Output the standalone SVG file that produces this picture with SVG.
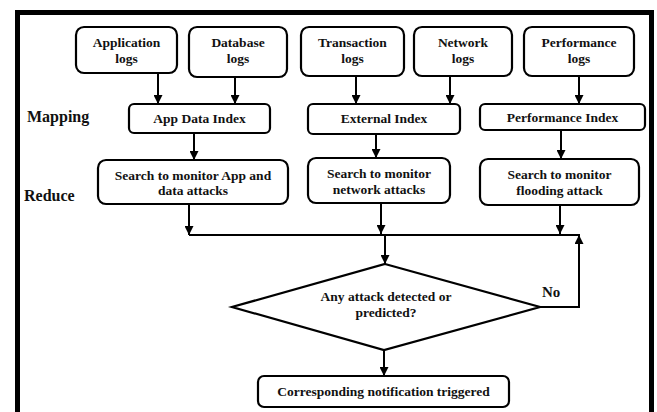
<svg xmlns="http://www.w3.org/2000/svg" width="657" height="412" viewBox="0 0 657 412">
<defs>
<marker id="ah" viewBox="0 0 10 10" refX="10" refY="5" markerWidth="4.5" markerHeight="4.5" orient="auto" markerUnits="strokeWidth">
<path d="M0,0 L10,5 L0,10 z" fill="#000"/>
</marker>
<style>
.box{fill:#fff;stroke:#000;stroke-width:2.2}
.t{font-family:"Liberation Serif","Times New Roman",serif;font-weight:bold;font-size:13.5px;fill:#111;text-anchor:middle}
.lab{font-family:"Liberation Serif","Times New Roman",serif;font-weight:bold;font-size:16px;fill:#111}
.c{fill:none;stroke:#000;stroke-width:2}
.a{fill:none;stroke:#000;stroke-width:2;marker-end:url(#ah)}
</style>
</defs>
<rect width="657" height="412" fill="#fff"/>
<path d="M17.5,420 V12.5 H651.5 V420" fill="none" stroke="#000" stroke-width="5"/>
<text class="lab" x="27" y="122">Mapping</text>
<text class="lab" x="24" y="201">Reduce</text>

<g id="app-logs"><rect class="box" x="76" y="27" width="101" height="46" rx="8"/><text class="t" x="126.5" y="47">Application</text><text class="t" x="126.5" y="63">logs</text></g>
<g id="db-logs"><rect class="box" x="189" y="27" width="98" height="50" rx="8"/><text class="t" x="238" y="47">Database</text><text class="t" x="238" y="63">logs</text></g>
<g id="tx-logs"><rect class="box" x="301" y="27" width="103" height="49" rx="8"/><text class="t" x="352.5" y="47">Transaction</text><text class="t" x="352.5" y="63">logs</text></g>
<g id="net-logs"><rect class="box" x="414" y="27" width="98" height="49" rx="8"/><text class="t" x="463" y="47">Network</text><text class="t" x="463" y="63">logs</text></g>
<g id="perf-logs"><rect class="box" x="524" y="27" width="110" height="49" rx="8"/><text class="t" x="579" y="47">Performance</text><text class="t" x="579" y="63">logs</text></g>

<g id="app-index"><rect class="box" x="129" y="104" width="141" height="29" rx="5"/><text class="t" x="199.5" y="123">App Data Index</text></g>
<g id="ext-index"><rect class="box" x="308" y="104" width="152" height="30" rx="5"/><text class="t" x="384" y="123">External Index</text></g>
<g id="perf-index"><rect class="box" x="480" y="104" width="165" height="26" rx="5"/><text class="t" x="562.5" y="122">Performance Index</text></g>

<g id="search-app"><rect class="box" x="98" y="160" width="190" height="44" rx="8"/><text class="t" x="193" y="180">Search to monitor App and</text><text class="t" x="193" y="195">data attacks</text></g>
<g id="search-net"><rect class="box" x="308" y="158" width="142" height="45" rx="8"/><text class="t" x="379" y="178">Search to monitor</text><text class="t" x="379" y="194">network attacks</text></g>
<g id="search-flood"><rect class="box" x="480" y="159" width="159" height="46" rx="8"/><text class="t" x="559.5" y="179">Search to monitor</text><text class="t" x="559.5" y="195">flooding attack</text></g>

<g id="decision"><polygon points="385,264 540,307 384,350 232,307" fill="#fff" stroke="#000" stroke-width="2.2"/><text class="t" x="386" y="301">Any attack detected or</text><text class="t" x="386" y="317">predicted?</text></g>
<g id="notify"><rect class="box" x="258" y="376" width="251" height="31" rx="6"/><text class="t" x="383.5" y="396">Corresponding notification triggered</text></g>

<g id="connectors">
<line class="a" x1="158" y1="73" x2="158" y2="104"/>
<line class="a" x1="235" y1="77" x2="235" y2="104"/>
<line class="a" x1="356" y1="76" x2="356" y2="104"/>
<line class="a" x1="450" y1="76" x2="450" y2="104"/>
<line class="a" x1="579" y1="76" x2="579" y2="104"/>
<line class="a" x1="194" y1="133" x2="194" y2="160"/>
<line class="a" x1="376" y1="134" x2="376" y2="158"/>
<line class="a" x1="561" y1="130" x2="561" y2="159"/>
<line class="a" x1="189" y1="204" x2="189" y2="235"/>
<line class="a" x1="381" y1="203" x2="381" y2="234"/>
<line class="a" x1="560" y1="205" x2="560" y2="234"/>
<line class="c" x1="189" y1="235" x2="580" y2="235"/>
<line class="a" x1="385" y1="235" x2="385" y2="264"/>
<polyline class="a" points="540,307 579,307 579,235"/>
<line class="a" x1="384" y1="350" x2="384" y2="376"/>
<text class="lab" x="542" y="297" style="font-size:15px">No</text>
</g>
</svg>
